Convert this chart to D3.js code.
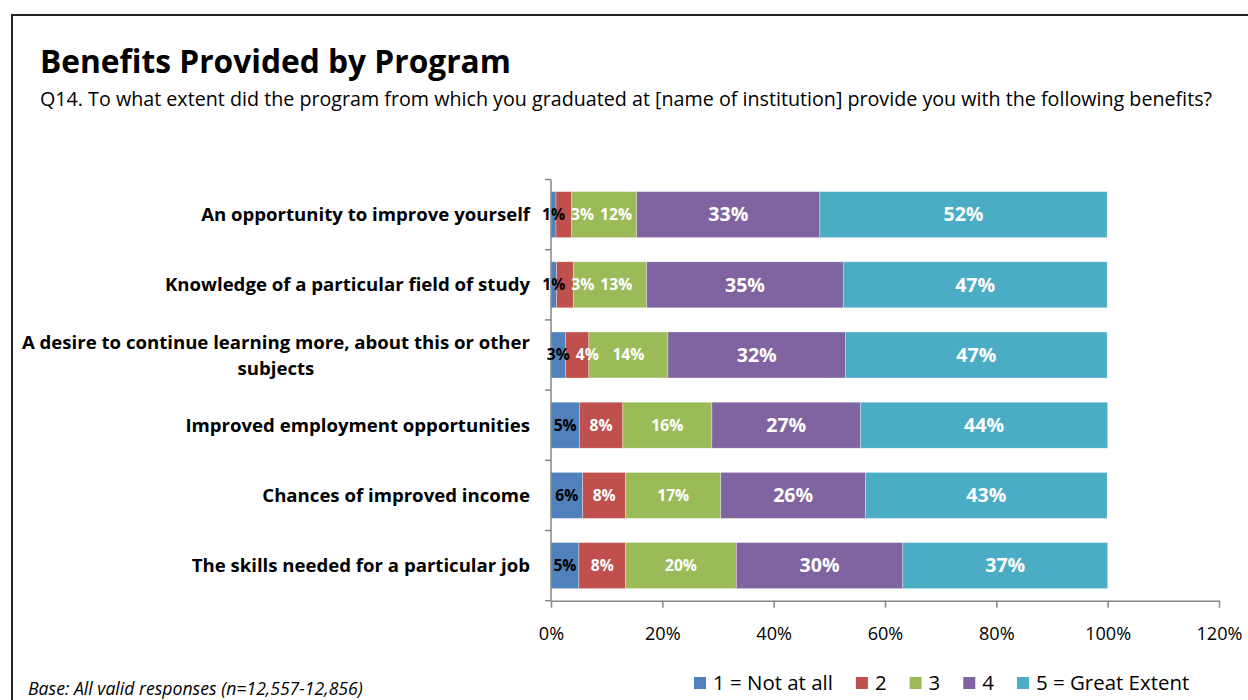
<!DOCTYPE html>
<html>
<head>
<meta charset="utf-8">
<script src="https://cdn.jsdelivr.net/npm/d3@7"></script>
<style>
  html, body { margin: 0; padding: 0; background: #fff; }
  svg { display: block; font-family: "Open Sans", Lato, sans-serif; }
</style>
</head>
<body>
<svg id="chart" width="1248" height="700"></svg>
<script>
// Survey items, top to bottom
const categories = [
  "An opportunity to improve yourself",
  "Knowledge of a particular field of study",
  "A desire to continue learning more, about this or other subjects",
  "Improved employment opportunities",
  "Chances of improved income",
  "The skills needed for a particular job"
];

// Response scale
const seriesNames = ["1 = Not at all", "2", "3", "4", "5 = Great Extent"];
const seriesColors = ["#4F81BD", "#C0504D", "#9BBB59", "#8064A2", "#4BACC6"];

// Share of responses per item (fractions), one array per response level
const notAtAll    = [0.009, 0.010, 0.026, 0.051, 0.057, 0.050];
const level2      = [0.028, 0.030, 0.042, 0.078, 0.077, 0.084];
const level3      = [0.117, 0.132, 0.142, 0.160, 0.171, 0.199];
const level4      = [0.329, 0.353, 0.319, 0.267, 0.260, 0.299];
const greatExtent = [0.516, 0.474, 0.470, 0.444, 0.434, 0.368];

const xTicks = [0, 0.2, 0.4, 0.6, 0.8, 1.0, 1.2];

const seriesValues = [notAtAll, level2, level3, level4, greatExtent];
const rows = categories.map((c, i) => {
  const r = { category: c };
  seriesNames.forEach((s, k) => { r[s] = seriesValues[k][i]; });
  return r;
});

const svg = d3.select("#chart");

// Scale a text element's font size so its rendered width equals `width`
function fitWidth(sel, width) {
  const fs = parseFloat(sel.attr("font-size"));
  const w = sel.node().getComputedTextLength();
  const size = fs * width / w;
  sel.attr("font-size", size);
  return size;
}
function sizeFor(sample, width, attrs) {
  const t = svg.append("text").attr("font-size", 20).text(sample);
  Object.entries(attrs || {}).forEach(([k, v]) => t.attr(k, v));
  const s = fitWidth(t, width);
  t.remove();
  return s;
}

// Outer frame (left and top edges)
svg.append("path")
  .attr("d", "M12,700 L12,15 L1248,15")
  .attr("fill", "none")
  .attr("stroke", "#222")
  .attr("stroke-width", 2);

// Title and question text
fitWidth(svg.append("text")
  .attr("x", 40).attr("y", 73)
  .attr("font-size", 33).attr("font-weight", "bold").attr("fill", "#000")
  .text("Benefits Provided by Program"), 471);
fitWidth(svg.append("text")
  .attr("x", 40).attr("y", 106)
  .attr("font-size", 17.5).attr("fill", "#000")
  .text("Q14. To what extent did the program from which you graduated at [name of institution] provide you with the following benefits?"), 1173);

// Scales
const x = d3.scaleLinear().domain([0, 1.2]).range([551, 1219]);
const y = d3.scaleBand().domain(categories)
  .range([179.5, 600.7]).paddingInner(0.345).paddingOuter(0.1725);

const stacked = d3.stack().keys(seriesNames)(rows);

// Bars
const layers = svg.append("g").selectAll("g")
  .data(stacked).join("g")
  .attr("fill", (d, i) => seriesColors[i]);

layers.selectAll("rect")
  .data(d => d.map(p => ({ p, cat: p.data.category })))
  .join("rect")
  .attr("x", d => x(d.p[0]))
  .attr("y", d => y(d.cat))
  .attr("width", d => x(d.p[1]) - x(d.p[0]))
  .attr("height", y.bandwidth())
  .attr("stroke", "#fff")
  .attr("stroke-opacity", 0.5)
  .attr("stroke-width", 0.6);

// Axes
const axisColor = "#868686";
const tickSize = sizeFor("100%", 46);
const xAxis = svg.append("g")
  .attr("transform", `translate(0,${y.range()[1]})`)
  .call(d3.axisBottom(x).tickValues(xTicks).tickFormat(d3.format(".0%")).tickSize(7).tickSizeOuter(0));
xAxis.select(".domain").attr("stroke", axisColor).attr("stroke-width", 1.5);
xAxis.selectAll(".tick line").attr("stroke", axisColor).attr("stroke-width", 1.5);
xAxis.selectAll(".tick text")
  .attr("font-family", "'Open Sans', Lato, sans-serif")
  .attr("font-size", tickSize).attr("fill", "#000")
  .attr("y", 0).attr("dy", 0)
  .attr("transform", "translate(0,39)");

// Category axis: line plus ticks on band boundaries
const yAxis = svg.append("g");
yAxis.append("line")
  .attr("x1", x(0)).attr("x2", x(0))
  .attr("y1", y.range()[0]).attr("y2", y.range()[1])
  .attr("stroke", axisColor).attr("stroke-width", 1.5);
const bounds = d3.range(categories.length + 1).map(i => y.range()[0] + i * y.step());
yAxis.selectAll("line.tk").data(bounds).join("line")
  .attr("class", "tk")
  .attr("x1", x(0) - 6).attr("x2", x(0))
  .attr("y1", d => d).attr("y2", d => d)
  .attr("stroke", axisColor).attr("stroke-width", 1.5);

// Category labels, wrapped to fit, right-aligned block with centred lines
const labelRight = 530;
const labelMax = 512;
const catSize = sizeFor(categories[0], 329, { "font-weight": "bold" });
const catG = svg.append("g")
  .attr("font-size", catSize).attr("font-weight", "bold").attr("fill", "#000");
categories.forEach(cat => {
  const words = cat.split(" ");
  const probe = catG.append("text");
  const lines = [];
  let line = [];
  words.forEach(w => {
    line.push(w);
    probe.text(line.join(" "));
    if (probe.node().getComputedTextLength() > labelMax && line.length > 1) {
      line.pop();
      lines.push(line.join(" "));
      line = [w];
    }
  });
  lines.push(line.join(" "));
  const widths = lines.map(l => { probe.text(l); return probe.node().getComputedTextLength(); });
  probe.remove();
  const blockW = d3.max(widths);
  const cy = y(cat) + y.bandwidth() / 2;
  const lh = 26;
  lines.forEach((l, i) => {
    catG.append("text")
      .attr("x", labelRight - blockW / 2)
      .attr("y", cy + (i - (lines.length - 1) / 2) * lh)
      .attr("dy", "0.35em")
      .attr("text-anchor", "middle")
      .text(l);
  });
});

// Value labels: centred on each segment, nudged right when they would overlap
const fmt = d3.format(".0%");
const smallSize = sizeFor("12%", 32, { "font-weight": "bold" });
const bigSize = sizeFor("33%", 40, { "font-weight": "bold" });
const valG = svg.append("g").attr("font-weight", "bold");
categories.forEach((cat, ci) => {
  const cy = y(cat) + y.bandwidth() / 2;
  let prevRight = -Infinity;
  stacked.forEach((layer, k) => {
    const seg = layer[ci];
    const t = valG.append("text")
      .attr("font-size", k >= 3 ? bigSize : smallSize)
      .attr("fill", k === 0 ? "#000" : "#fff")
      .attr("text-anchor", "middle")
      .attr("dy", "0.35em")
      .attr("y", cy)
      .text(fmt(seg[1] - seg[0]));
    const w = t.node().getComputedTextLength();
    let cx = (x(seg[0]) + x(seg[1])) / 2;
    if (cx - w / 2 < prevRight + 6) cx = prevRight + 6 + w / 2;
    t.attr("x", cx);
    prevRight = cx + w / 2;
  });
});

// Legend
const legendSize = sizeFor(seriesNames[0], 120);
const legend = svg.append("g").attr("transform", "translate(0,683)");
let lx = 694;
seriesNames.forEach((s, i) => {
  legend.append("rect")
    .attr("x", lx).attr("y", -6).attr("width", 12).attr("height", 12)
    .attr("fill", seriesColors[i]);
  const t = legend.append("text")
    .attr("x", lx + 19).attr("dy", "0.35em")
    .attr("font-size", legendSize).attr("fill", "#000")
    .text(s);
  lx += 19 + t.node().getComputedTextLength() + 23;
});

// Base note
fitWidth(svg.append("text")
  .attr("x", 28).attr("y", 695)
  .attr("font-size", 15).attr("font-style", "italic").attr("fill", "#000")
  .text("Base: All valid responses (n=12,557-12,856)"), 335);
</script>
</body>
</html>
